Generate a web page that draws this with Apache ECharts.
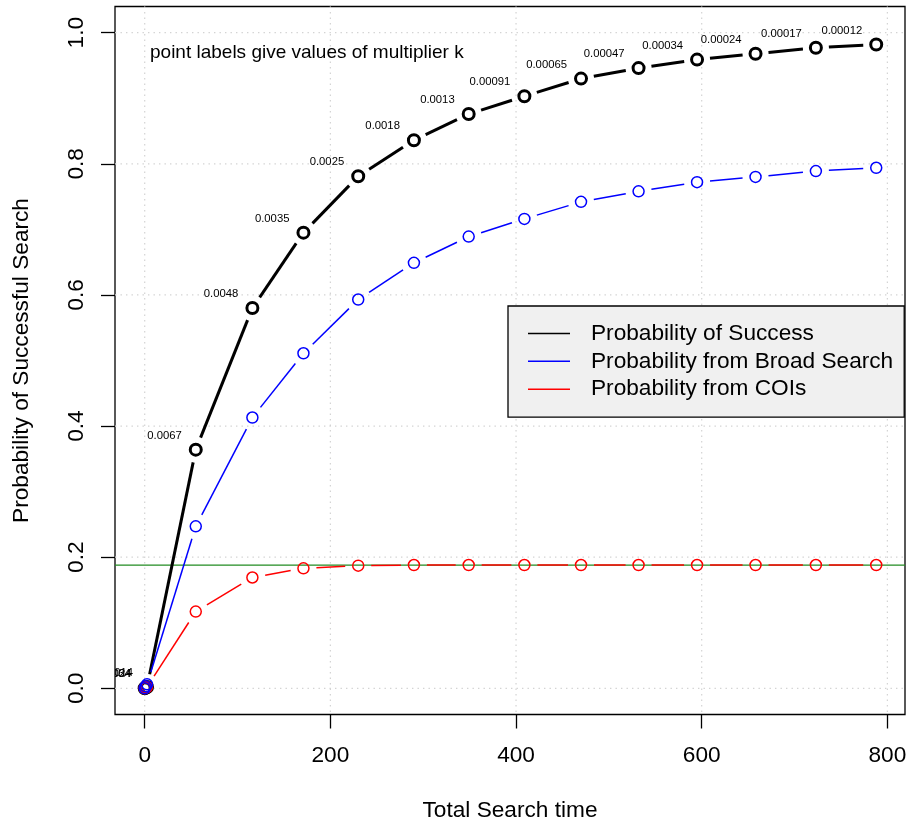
<!DOCTYPE html>
<html>
<head>
<meta charset="utf-8">
<title>Probability of Successful Search</title>
<script src="https://cdn.jsdelivr.net/npm/echarts@6/dist/echarts.min.js"></script>
<style>
  html, body { margin: 0; padding: 0; background: #ffffff; }
  #chart { width: 909px; height: 825px; }
</style>
</head>
<body>
<div id="chart"></div>
<script>
// Total search time for each step of the search schedule
const searchTime = [0, 1, 2.5, 55, 116, 171, 230, 290, 349, 409, 470, 532, 595, 658, 723, 788];
// Overall probability of success
const probSuccess = [0, 0.001, 0.002, 0.364, 0.580, 0.695, 0.781, 0.836, 0.876, 0.903, 0.930, 0.946, 0.959, 0.968, 0.977, 0.982];
// Contribution from the broad search
const probBroad = [0, 0.003, 0.006, 0.247, 0.413, 0.511, 0.593, 0.649, 0.689, 0.716, 0.742, 0.758, 0.772, 0.780, 0.789, 0.794];
// Contribution from the COIs
const probCOI = [0, 0.001, 0.002, 0.117, 0.169, 0.183, 0.187, 0.188, 0.188, 0.188, 0.188, 0.188, 0.188, 0.188, 0.188, 0.188];
// Multiplier k at each step (printed beside the success curve)
const kLabels = ['0.034', '0.024', '0.014', '0.0067', '0.0048', '0.0035', '0.0025', '0.0018', '0.0013',
                 '0.00091', '0.00065', '0.00047', '0.00034', '0.00024', '0.00017', '0.00012'];
// Upper limit of the COI contribution
const coiLimit = [0.188];

const xTicks = [0, 200, 400, 600, 800];
const xTickLabels = ['0', '200', '400', '600', '800'];
const yTicks = [0, 0.2, 0.4, 0.6, 0.8, 1.0];
const yTickLabels = ['0.0', '0.2', '0.4', '0.6', '0.8', '1.0'];

const seriesNames = ['Probability of Success', 'Probability from Broad Search', 'Probability from COIs'];

const FONT = '"Liberation Sans", Arial, Helvetica, sans-serif';
const BASE = 22.67;
const GRID_COLOR = '#d3d3d3';

function pairs(xs, ys) { return xs.map((x, i) => [x, ys[i]]); }

function tickLabel(ticks, labels) {
  return function (v) {
    let best = 0;
    for (let i = 1; i < ticks.length; i++) {
      if (Math.abs(ticks[i] - v) < Math.abs(ticks[best] - v)) best = i;
    }
    return labels[best];
  };
}

// "both" style curve: hollow circles joined by segments that stop short of each point
function curveRenderer(values, color, lineWidth, circleWidth, labels) {
  const gap = 13;
  const radius = 5.5;
  return function (params, api) {
    const i = params.dataIndex;
    const cur = api.coord([searchTime[i], values[i]]);
    const children = [];
    if (i > 0) {
      const prev = api.coord([searchTime[i - 1], values[i - 1]]);
      const dx = cur[0] - prev[0], dy = cur[1] - prev[1];
      const len = Math.sqrt(dx * dx + dy * dy);
      if (len > 2 * gap) {
        const ux = dx / len, uy = dy / len;
        children.push({
          type: 'line',
          shape: { x1: prev[0] + ux * gap, y1: prev[1] + uy * gap, x2: cur[0] - ux * gap, y2: cur[1] - uy * gap },
          style: { stroke: color, lineWidth: lineWidth, lineCap: 'butt' }
        });
      }
    }
    children.push({
      type: 'circle',
      shape: { cx: cur[0], cy: cur[1], r: radius },
      style: { fill: 'none', stroke: color, lineWidth: circleWidth }
    });
    if (labels) {
      children.push({
        type: 'text',
        x: cur[0] - 14,
        y: cur[1] - 14,
        style: { text: labels[i], fill: '#000', fontSize: 11.3, fontFamily: FONT, align: 'right', verticalAlign: 'middle' }
      });
    }
    return { type: 'group', children: children };
  };
}

const chart = echarts.init(document.getElementById('chart'), null, { renderer: 'canvas' });

const option = {
  animation: false,
  backgroundColor: '#ffffff',
  title: {
    text: 'point labels give values of multiplier k',
    left: 150,
    top: 43,
    padding: 0,
    textStyle: { fontSize: 19, fontWeight: 'normal', color: '#000', fontFamily: FONT }
  },
  grid: {
    left: 115, right: 4, top: 6.5, bottom: 110.5,
    show: true, borderColor: '#000', borderWidth: 1.3, backgroundColor: 'transparent',
    outerBoundsMode: 'none'
  },
  legend: {
    orient: 'vertical',
    left: 508, top: 306,
    data: [
      { name: seriesNames[0], icon: 'rect', itemStyle: { color: '#000000', borderWidth: 0 } },
      { name: seriesNames[1], icon: 'rect', itemStyle: { color: '#0000ff', borderWidth: 0 } },
      { name: seriesNames[2], icon: 'rect', itemStyle: { color: '#ff0000', borderWidth: 0 } }
    ],
    itemWidth: 42, itemHeight: 1.5, itemGap: 4.83,
    padding: [16, 11, 16.4, 20],
    backgroundColor: '#f0f0f0', borderColor: '#000', borderWidth: 1.3, borderRadius: 0,
    selectedMode: false,
    formatter: function (name) { return '{t|' + name + '}'; },
    textStyle: {
      rich: { t: { fontSize: BASE, fontFamily: FONT, color: '#000', padding: [0, 0, 0, 16] } }
    }
  },
  xAxis: {
    type: 'value', min: -32, max: 819,
    name: 'Total Search time', nameLocation: 'middle', nameGap: 85,
    nameTextStyle: { fontSize: BASE, color: '#000', fontFamily: FONT },
    axisLine: { show: false, onZero: false },
    axisTick: { show: true, inside: false, length: 14, customValues: xTicks, lineStyle: { color: '#000', width: 1.3 } },
    axisLabel: { customValues: xTicks, formatter: tickLabel(xTicks, xTickLabels), fontSize: BASE, color: '#000', fontFamily: FONT, margin: 30 },
    splitLine: { show: false }
  },
  yAxis: {
    type: 'value', min: -0.04, max: 1.04,
    name: 'Probability of Successful Search', nameLocation: 'middle', nameGap: 82, nameRotate: 90,
    nameTextStyle: { fontSize: BASE, color: '#000', fontFamily: FONT },
    axisLine: { show: false, onZero: false },
    axisTick: { show: true, inside: false, length: 14, customValues: yTicks, lineStyle: { color: '#000', width: 1.3 } },
    axisLabel: { customValues: yTicks, formatter: tickLabel(yTicks, yTickLabels), rotate: 90, fontSize: BASE, color: '#000', fontFamily: FONT, margin: 27 },
    splitLine: { show: false }
  },
  series: [
    {
      // vertical dotted grid lines at the x ticks
      type: 'custom', name: 'xgrid', silent: true, z: 1,
      data: xTicks.map(v => [v, 0]),
      encode: { x: 0, y: 1 },
      renderItem: function (params, api) {
        const cs = params.coordSys;
        const p = api.coord([api.value(0), 0]);
        return { type: 'line', shape: { x1: p[0], y1: cs.y, x2: p[0], y2: cs.y + cs.height },
                 style: { stroke: GRID_COLOR, lineWidth: 1.2, lineDash: [1.4, 4.1] } };
      }
    },
    {
      // horizontal dotted grid lines at the y ticks
      type: 'custom', name: 'ygrid', silent: true, z: 1,
      data: yTicks.map(v => [0, v]),
      encode: { x: 0, y: 1 },
      renderItem: function (params, api) {
        const cs = params.coordSys;
        const p = api.coord([0, api.value(1)]);
        return { type: 'line', shape: { x1: cs.x, y1: p[1], x2: cs.x + cs.width, y2: p[1] },
                 style: { stroke: GRID_COLOR, lineWidth: 1.2, lineDash: [1.4, 4.1] } };
      }
    },
    {
      // limit of the COI contribution
      type: 'custom', name: 'coiLimit', silent: true, z: 2,
      data: coiLimit.map(v => [0, v]),
      encode: { x: 0, y: 1 },
      renderItem: function (params, api) {
        const cs = params.coordSys;
        const p = api.coord([0, api.value(1)]);
        return { type: 'line', shape: { x1: cs.x, y1: p[1], x2: cs.x + cs.width, y2: p[1] },
                 style: { stroke: '#228b22', lineWidth: 1.3 } };
      }
    },
    {
      type: 'custom', name: seriesNames[0], z: 3, clip: true,
      itemStyle: { color: '#000000' },
      data: pairs(searchTime, probSuccess),
      encode: { x: 0, y: 1 },
      renderItem: curveRenderer(probSuccess, '#000000', 3, 3, kLabels)
    },
    {
      type: 'custom', name: seriesNames[2], z: 3, clip: true,
      itemStyle: { color: '#ff0000' },
      data: pairs(searchTime, probCOI),
      encode: { x: 0, y: 1 },
      renderItem: curveRenderer(probCOI, '#ff0000', 1.5, 1.5, null)
    },
    {
      type: 'custom', name: seriesNames[1], z: 3, clip: true,
      itemStyle: { color: '#0000ff' },
      data: pairs(searchTime, probBroad),
      encode: { x: 0, y: 1 },
      renderItem: curveRenderer(probBroad, '#0000ff', 1.5, 1.5, null)
    }
  ]
};

chart.setOption(option);
</script>
</body>
</html>
